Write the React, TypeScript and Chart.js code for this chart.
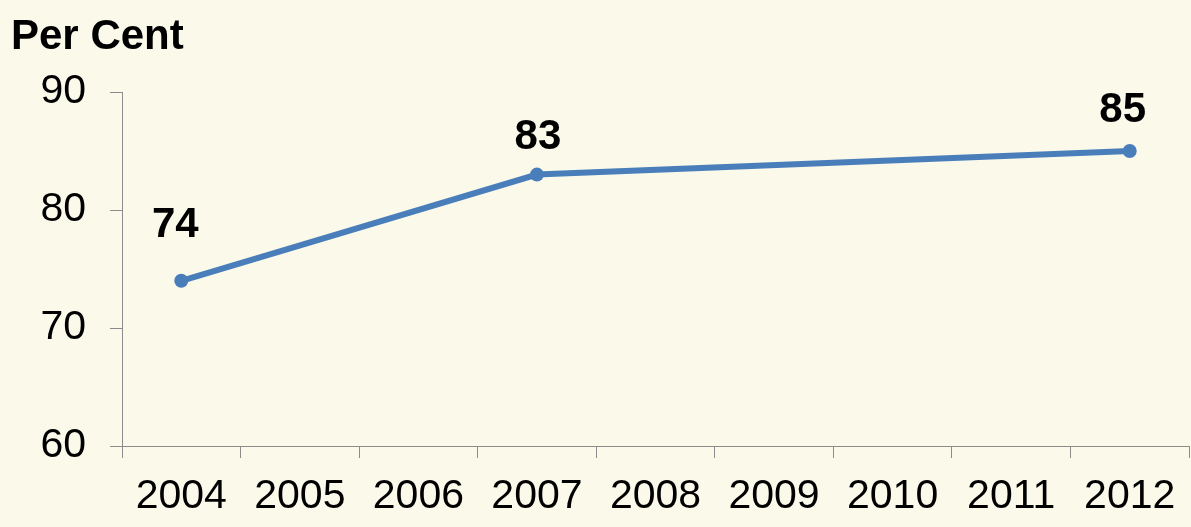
import React, { useEffect, useRef } from "react";
import { Chart, registerables } from "chart.js";

Chart.register(...registerables);

const years = ["2004", "2005", "2006", "2007", "2008", "2009", "2010", "2011", "2012"];
const perCent: (number | null)[] = [74, null, null, 83, null, null, null, null, 85];
const yTicks = [60, 70, 80, 90];
const yTitle = "Per Cent";

const FONT = "'Liberation Sans', Arial, sans-serif";

const bgPlugin = {
  id: "bg",
  beforeDraw(chart: any) {
    const { ctx, width, height } = chart;
    ctx.save();
    ctx.fillStyle = "#FAF9EA";
    ctx.fillRect(0, 0, width, height);
    ctx.restore();
  },
};

const titlePlugin = {
  id: "ytitle",
  afterDraw(chart: any) {
    const { ctx } = chart;
    ctx.save();
    ctx.font = `bold 42px ${FONT}`;
    ctx.fillStyle = "#000";
    ctx.textAlign = "left";
    ctx.textBaseline = "middle";
    ctx.fillText(yTitle, 11, 37);
    ctx.restore();
  },
};

const labelPlugin = {
  id: "vlabels",
  afterDatasetsDraw(chart: any) {
    const { ctx } = chart;
    const meta = chart.getDatasetMeta(0);
    const data = chart.data.datasets[0].data;
    ctx.save();
    ctx.font = `bold 42px ${FONT}`;
    ctx.fillStyle = "#000";
    ctx.textAlign = "center";
    ctx.textBaseline = "middle";
    let k = 0;
    const dxs = [-6, 1, -7];
    const dys = [-55, -37, -41];
    meta.data.forEach((pt: any, i: number) => {
      const v = data[i];
      if (v === null || v === undefined) return;
      ctx.fillText(String(v), pt.x + dxs[k], pt.y + dys[k]);
      k++;
    });
    ctx.restore();
  },
};

export default function App() {
  const ref = useRef<HTMLCanvasElement | null>(null);
  useEffect(() => {
    if (!ref.current) return;
    const chart = new Chart(ref.current, {
      type: "line",
      data: {
        labels: years,
        datasets: [
          {
            data: perCent,
            borderColor: "#4A7EBB",
            backgroundColor: "#4A7EBB",
            borderWidth: 6,
            pointRadius: 7,
            pointBackgroundColor: "#4A7EBB",
            pointBorderWidth: 0,
            spanGaps: true,
            tension: 0,
          },
        ],
      },
      options: {
        animation: false,
        responsive: false,
        maintainAspectRatio: false,
        layout: { autoPadding: false, padding: { top: 92, right: 2, left: 0, bottom: 0 } },
        plugins: { legend: { display: false }, tooltip: { enabled: false }, title: { display: false } },
        scales: {
          x: {
            type: "category",
            offset: true,
            grid: {
              offset: true,
              drawOnChartArea: false,
              drawTicks: true,
              tickLength: 12,
              color: "#8C8C8C",
            },
            border: { color: "#8C8C8C", width: 1 },
            ticks: {
              color: "#000",
              font: { family: FONT, size: 41 },
              padding: 14,
              maxRotation: 0,
              autoSkip: false,
            },
            afterFit(scale: any) {
              scale.height = 81;
              scale.paddingRight = 0;
              scale.paddingLeft = 0;
            },
          },
          y: {
            min: 60,
            max: 90,
            afterBuildTicks(scale: any) {
              scale.ticks = yTicks.map((v) => ({ value: v }));
            },
            grid: {
              drawOnChartArea: false,
              drawTicks: true,
              tickLength: 12,
              color: "#8C8C8C",
            },
            border: { color: "#8C8C8C", width: 1 },
            ticks: {
              color: "#000",
              font: { family: FONT, size: 41 },
              padding: 24,
            },
            afterFit(scale: any) {
              scale.width = 122;
            },
          },
        },
      },
      plugins: [bgPlugin, titlePlugin, labelPlugin],
    } as any);
    return () => chart.destroy();
  }, []);
  return (
    <div style={{ position: "fixed", left: 0, top: 0, width: 1191, height: 527 }}>
      <canvas ref={ref} width={1191} height={527} style={{ display: "block" }} />
    </div>
  );
}
